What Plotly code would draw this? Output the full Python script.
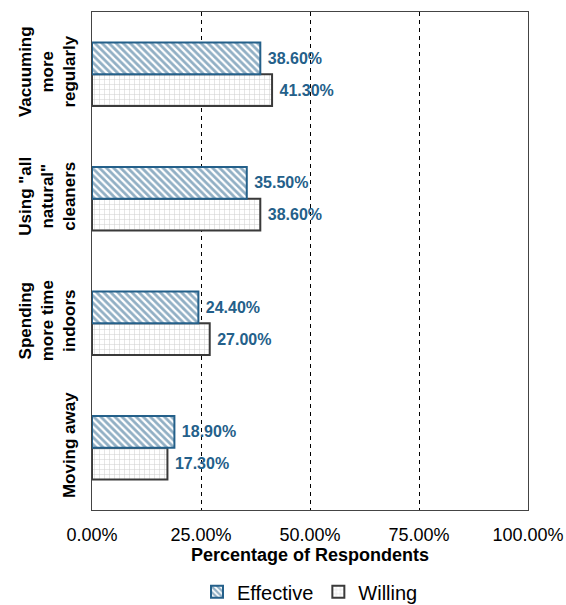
import plotly.graph_objects as go

# Survey categories (bottom to top on the y axis)
categories = [
    "Moving away",
    "Spending<br>more time<br>indoors",
    "Using \"all<br>natural\"<br>cleaners",
    "Vacuuming<br>more<br>regularly",
]
effective = [0.189, 0.244, 0.355, 0.386]
willing = [0.173, 0.270, 0.386, 0.413]
x_ticks = [0, 0.25, 0.5, 0.75, 1.0]

blue = "#24608A"
dark = "#3A3A3A"
base_font = "Liberation Sans, Arial"

fig = go.Figure()

# Willing first so it sits below Effective within each group
fig.add_trace(go.Bar(
    y=categories, x=willing, name="Willing", orientation="h",
    marker=dict(
        color="white",
        line=dict(color=dark, width=2),
        pattern=dict(shape="+", fgcolor="#A0A0A0", bgcolor="white", size=5, solidity=0.2),
    ),
    text=willing, texttemplate="<b>\u00a0%{x:.2%}</b>", textposition="outside",
    textfont=dict(family=base_font, size=16, color=blue),
    cliponaxis=False, legendrank=2,
))
fig.add_trace(go.Bar(
    y=categories, x=effective, name="Effective", orientation="h",
    marker=dict(
        color="white",
        line=dict(color=blue, width=2),
        pattern=dict(shape="\\", fgcolor=blue, bgcolor="white", size=5, solidity=0.55),
    ),
    text=effective, texttemplate="<b>\u00a0%{x:.2%}</b>", textposition="outside",
    textfont=dict(family=base_font, size=16, color=blue),
    cliponaxis=False, legendrank=1,
))

fig.update_layout(
    width=566, height=605,
    margin=dict(l=92, r=38, t=12, b=95, autoexpand=False),
    paper_bgcolor="white", plot_bgcolor="white",
    barmode="group", bargap=0.49, bargroupgap=0,
    font=dict(family=base_font, size=15, color="black"),
    showlegend=True,
    legend=dict(
        orientation="h", x=0.5, xanchor="center",
        yref="container", y=0.022, yanchor="middle",
        font=dict(size=20, color="black"), traceorder="normal",
        itemwidth=30,
    ),
)

fig.update_xaxes(
    range=[0, 1], tickvals=x_ticks, tickformat=".2%",
    showgrid=True, gridcolor="black", griddash="4px,4px", gridwidth=1,
    showline=True, linecolor="#444444", linewidth=1, mirror=True,
    zeroline=False, ticks="", automargin=False, ticklabelstandoff=8,
    tickfont=dict(size=18, color="black"),
    title=dict(text="<b>Percentage of Respondents</b>", font=dict(size=18, color="black"), standoff=4),
)
fig.update_yaxes(
    showgrid=False, showline=True, linecolor="#444444", linewidth=1, mirror=True,
    ticks="", tickangle=-90, automargin=False, ticklabelstandoff=9,
    tickfont=dict(size=17, color="black", family=base_font),
    tickvals=categories, ticktext=["<b>" + c + "</b>" for c in categories],
)

fig.write_html("out.html")
